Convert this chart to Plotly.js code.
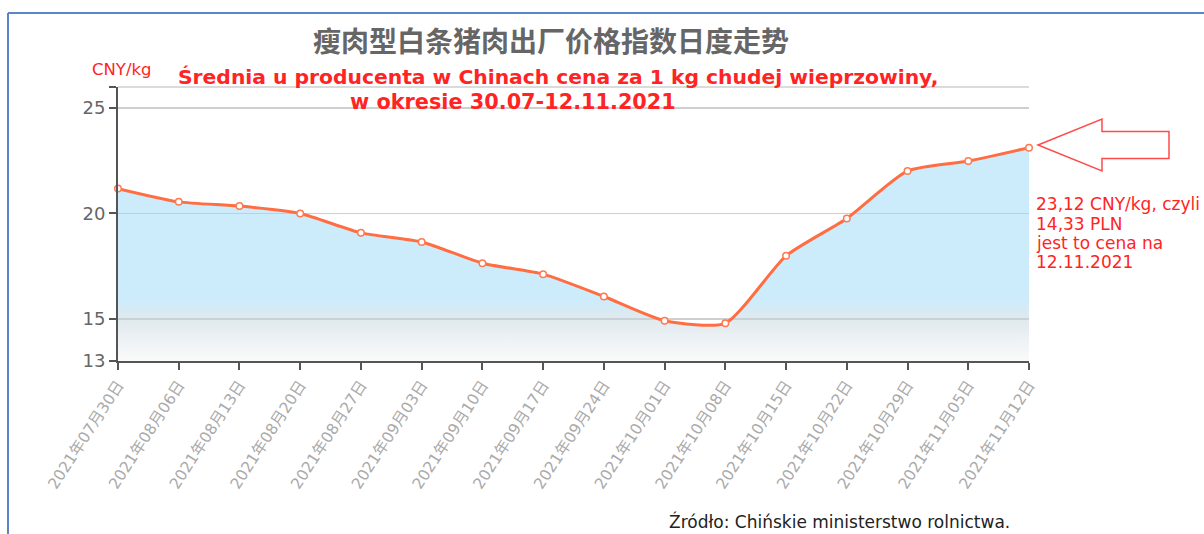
<!DOCTYPE html>
<html>
<head>
<meta charset="utf-8">
<script src="https://cdn.plot.ly/plotly-3.0.1.min.js"></script>
<style>html,body{margin:0;padding:0;background:#fff;}#chart{width:1204px;height:534px;}</style>
</head>
<body>
<div id="chart"></div>
<script>
// ---- data ----
const dates = ["2021年07月30日","2021年08月06日","2021年08月13日","2021年08月20日","2021年08月27日","2021年09月03日","2021年09月10日","2021年09月17日","2021年09月24日","2021年10月01日","2021年10月08日","2021年10月15日","2021年10月22日","2021年10月29日","2021年11月05日","2021年11月12日"];
const prices = [21.18, 20.55, 20.35, 20.0, 19.08, 18.65, 17.64, 17.12, 16.06, 14.91, 14.79, 17.99, 19.76, 22.02, 22.49, 23.12];
const yTickVals = [13, 15, 20, 25, 26];
const yTickText = ["13", "15", "20", "25", ""];
const titleText = "瘦肉型白条猪肉出厂价格指数日度走势";
const subtitle1 = "Średnia u producenta w Chinach cena za 1 kg chudej wieprzowiny,";
const subtitle2 = "w okresie 30.07-12.11.2021";
const unitText = "CNY/kg";
const noteLines = ["23,12 CNY/kg, czyli", "14,33 PLN", "jest to cena na", "12.11.2021"];
const sourceText = "Źródło: Chińskie ministerstwo rolnictwa.";

// ---- layout geometry (pixels) ----
const W = 1204, H = 534;
const L = 118, R = 1029, T = 87, B = 361;
const px = x => (x - L) / (R - L);
const py = y => (B - y) / (B - T);

const red = '#ff2424';
const fontLatin = 'DejaVu Sans, Verdana, sans-serif';

const trace = {
  x: dates,
  y: prices,
  type: 'scatter',
  mode: 'lines+markers',
  line: {color: '#ff6d40', width: 3, shape: 'spline', smoothing: 0.6},
  marker: {size: 6.5, color: '#ffffff', line: {color: '#ff7a50', width: 1.5}},
  fill: 'tozeroy',
  fillgradient: {
    type: 'vertical',
    start: 13,
    stop: 23.12,
    colorscale: [
      [0, 'rgba(246,246,246,0.5)'],
      [0.2, 'rgba(191,211,221,0.5)'],
      [0.29, 'rgba(153,217,249,0.5)'],
      [1, 'rgba(153,217,249,0.5)']
    ]
  },
  cliponaxis: false,
  hoverinfo: 'x+y',
  showlegend: false
};

function pathFrom(pts) {
  return 'M ' + pts.map(p => px(p[0]).toFixed(5) + ',' + py(p[1]).toFixed(5)).join(' L ') + ' Z';
}
const arrowPts = [[1038,145],[1102,119],[1102,131.5],[1169,131.5],[1169,158.5],[1102,158.5],[1102,171]];

const annotations = [
  {text: subtitle1, x: px(558), y: py(77), xref: 'paper', yref: 'paper', xanchor: 'center', yanchor: 'middle', showarrow: false,
   font: {family: fontLatin, size: 20.3, color: red, weight: 'bold'}},
  {text: subtitle2, x: px(513), y: py(102), xref: 'paper', yref: 'paper', xanchor: 'center', yanchor: 'middle', showarrow: false,
   font: {family: fontLatin, size: 20.8, color: red, weight: 'bold'}},
  {text: unitText, x: px(122), y: py(70), xref: 'paper', yref: 'paper', xanchor: 'center', yanchor: 'middle', showarrow: false,
   font: {family: fontLatin, size: 16.5, color: red}},
  {text: sourceText, x: px(839), y: py(521), xref: 'paper', yref: 'paper', xanchor: 'center', yanchor: 'middle', showarrow: false,
   font: {family: fontLatin, size: 17, color: '#222'}}
];
const noteY = [204, 224, 243, 262];
noteLines.forEach((t, i) => annotations.push({
  text: t, x: px(1034), y: py(noteY[i]), xref: 'paper', yref: 'paper', xanchor: 'left', yanchor: 'middle', showarrow: false,
  font: {family: fontLatin, size: 17, color: red}
}));

const layout = {
  width: W, height: H,
  margin: {l: L, r: W - R, t: T, b: H - B, pad: 0},
  paper_bgcolor: '#fff', plot_bgcolor: '#fff',
  title: {text: titleText, x: 551 / W, y: 1 - 42 / H, xref: 'container', yref: 'container', xanchor: 'center', yanchor: 'middle',
    font: {family: 'Noto Sans CJK SC, sans-serif', size: 28, color: '#666', weight: 'bold'}},
  xaxis: {
    type: 'category', range: [0, dates.length - 1],
    showgrid: false, zeroline: false,
    showline: true, linecolor: '#555', linewidth: 2,
    ticks: 'outside', ticklen: 7, tickwidth: 2, tickcolor: '#555',
    tickangle: -57,
    tickfont: {family: 'DejaVu Sans, Noto Sans CJK SC, sans-serif', size: 15.5, color: '#aaa'}
  },
  yaxis: {
    range: [13, 26], tickmode: 'array', tickvals: yTickVals, ticktext: yTickText,
    showgrid: true, gridcolor: '#cfcfcf', gridwidth: 1.5, zeroline: false,
    showline: true, linecolor: '#555', linewidth: 2,
    ticks: 'outside', ticklen: 7, tickwidth: 2, tickcolor: '#555',
    tickfont: {family: fontLatin, size: 18, color: '#666'}
  },
  shapes: [
    {type: 'line', xref: 'paper', yref: 'paper', x0: 0, x1: 1, y0: 1, y1: 1, line: {color: '#cfcfcf', width: 1.5}, layer: 'below'},
    {type: 'line', xref: 'paper', yref: 'paper', x0: px(8), x1: px(1204), y0: py(13), y1: py(13), line: {color: '#5a86c6', width: 2}},
    {type: 'line', xref: 'paper', yref: 'paper', x0: px(8), x1: px(8), y0: py(13), y1: py(534), line: {color: '#5a86c6', width: 2}},
    {type: 'path', xref: 'paper', yref: 'paper', path: pathFrom(arrowPts), fillcolor: '#ffffff', line: {color: '#ff4a4a', width: 1.5}}
  ],
  annotations: annotations,
  showlegend: false
};

Plotly.newPlot('chart', [trace], layout, {displayModeBar: false, staticPlot: true});
</script>
</body>
</html>
